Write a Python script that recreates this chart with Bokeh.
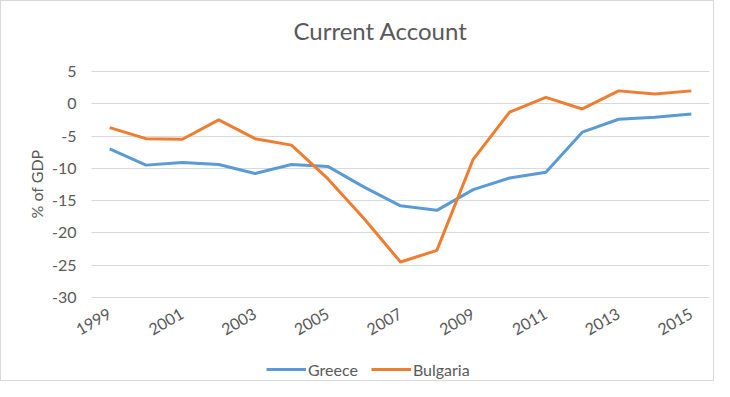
import math
from bokeh.plotting import figure
from bokeh.models import (Range1d, FixedTicker, Legend, LegendItem, ColumnDataSource,
                          PrintfTickFormatter, Title, Grid)
from bokeh.embed import file_html
from bokeh.resources import INLINE

years = list(range(1999, 2016))
greece = [-7.0, -9.5, -9.1, -9.4, -10.8, -9.4, -9.7, -12.9, -15.8, -16.5,
          -13.3, -11.5, -10.6, -4.4, -2.4, -2.1, -1.6]
bulgaria = [-3.7, -5.4, -5.5, -2.5, -5.4, -6.4, -11.6, -17.8, -24.5, -22.7,
            -8.6, -1.3, 1.0, -0.8, 2.0, 1.5, 2.0]
x_ticks = [1999, 2001, 2003, 2005, 2007, 2009, 2011, 2013, 2015]
y_ticks = [5, 0, -5, -10, -15, -20, -25, -30]

FONT = "Lato"
TXT = "#595959"

W, H = 714, 381
RIGHT = 6
FRAME_TOP = 55           # frame starts above the plotted area so labels are not clipped
AREA_TOP, AREA_BOTTOM = 70, 296
FRAME_LEFT = 50          # frame starts left of the plotted area so labels are not clipped
AREA_LEFT = 90
X0, X1 = 1998.5, 2015.5  # category edges of the plotted area
Y0, Y1 = -30, 5
ppx = (W - RIGHT - AREA_LEFT) / (X1 - X0)
ppu = (AREA_BOTTOM - AREA_TOP) / (Y1 - Y0)
y_bottom = Y0 - (H - AREA_BOTTOM) / ppu
y_top = Y1 + (AREA_TOP - FRAME_TOP) / ppu
x_start = X0 - (AREA_LEFT - FRAME_LEFT) / ppx

p = figure(width=W, height=H, output_backend="svg", toolbar_location=None,
           x_range=Range1d(x_start, X1), y_range=Range1d(y_bottom, y_top),
           min_border_left=FRAME_LEFT, min_border_right=RIGHT, min_border_top=FRAME_TOP,
           min_border_bottom=0)
p.outline_line_color = None
p.background_fill_color = "white"
p.border_fill_color = "white"
p.styles = {"border": "1px solid #d9d9d9"}

t = Title(text="Current Account", align="center", text_font=FONT,
          text_font_size="24px", text_font_style="normal", text_color=TXT,
          standoff=23)
p.add_layout(t, "above")

p.xgrid.grid_line_color = None
p.ygrid.grid_line_color = None

# horizontal gridlines limited to the plotted area
if "cross_bounds" in Grid.properties():
    g = Grid(dimension=1, ticker=FixedTicker(ticks=y_ticks), grid_line_color="#d9d9d9",
             grid_line_width=1, cross_bounds=(X0, X1))
    p.add_layout(g)
else:
    p.segment(x0=X0, x1=X1, y0=y_ticks, y1=y_ticks, line_color="#d9d9d9", line_width=1)

src = ColumnDataSource(dict(year=years, greece=greece, bulgaria=bulgaria))
rg = p.line("year", "greece", source=src, line_color="#5B9BD5", line_width=3)
rb = p.line("year", "bulgaria", source=src, line_color="#ED7D31", line_width=3)

p.xaxis.ticker = FixedTicker(ticks=x_ticks)
p.yaxis.ticker = FixedTicker(ticks=y_ticks)
p.yaxis.formatter = PrintfTickFormatter(format="%d")
p.xaxis.fixed_location = Y0
p.yaxis.fixed_location = X0

for ax in (p.xaxis[0], p.yaxis[0]):
    ax.axis_line_color = None
    ax.major_tick_line_color = None
    ax.minor_tick_line_color = None
    ax.major_tick_out = 0
    ax.major_tick_in = 0
    ax.minor_tick_out = 0
    ax.major_label_text_font = FONT
    ax.major_label_text_font_size = "16px"
    ax.major_label_text_color = TXT

p.xaxis.major_label_orientation = math.pi / 6
p.xaxis.major_label_standoff = 15
p.yaxis.major_label_standoff = 15

ylab = Title(text="% of GDP", align="left", text_font=FONT,
             text_font_size="16px", text_font_style="normal", text_color=TXT,
             offset=H - 217, standoff=11)
p.add_layout(ylab, "left")

legend = Legend(items=[LegendItem(label="Greece", renderers=[rg]),
                       LegendItem(label="Bulgaria", renderers=[rb])],
                orientation="horizontal", location=(265 - FRAME_LEFT, 3))
legend.label_text_font = FONT
legend.label_text_font_size = "16px"
legend.label_text_color = TXT
legend.glyph_width = 40
legend.label_standoff = 2
legend.spacing = 13
legend.border_line_color = None
legend.background_fill_alpha = 0
legend.padding = 0
legend.margin = 0
p.add_layout(legend)

open("out.html", "w").write(file_html(p, INLINE))
